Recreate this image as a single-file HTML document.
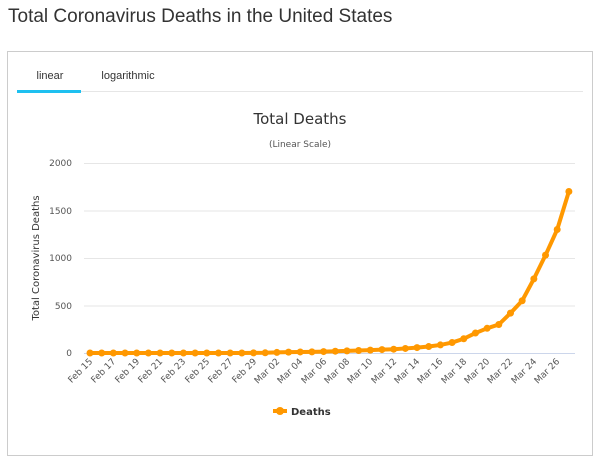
<!DOCTYPE html>
<html><head><meta charset="utf-8"><style>
body{margin:0;width:600px;height:466px;background:#fff;font-family:"Liberation Sans",sans-serif;overflow:hidden;position:relative}
h1{position:absolute;left:8px;top:6px;margin:0;font-size:19px;font-weight:normal;color:#333}
.box{position:absolute;left:7px;top:51px;width:586px;height:405px;border:1px solid #ccc;box-sizing:border-box}
</style></head><body>
<h1>Total Coronavirus Deaths in the United States</h1>
<div class="box"></div>
<svg width="600" height="466" style="position:absolute;left:0;top:0" font-family="'DejaVu Sans',sans-serif">
<text x="50" y="79" font-size="11" fill="#333" font-family="Liberation Sans,sans-serif" text-anchor="middle">linear</text>
<text x="128" y="79" font-size="11" fill="#333" font-family="Liberation Sans,sans-serif" text-anchor="middle">logarithmic</text>
<line x1="17" y1="91.5" x2="583" y2="91.5" stroke="#e6e6e6"/>
<rect x="17" y="90" width="64" height="3" fill="#1ec0f0"/>
<text x="300" y="124" font-size="15" fill="#333" text-anchor="middle" font-family="DejaVu Sans,sans-serif">Total Deaths</text>
<text x="300" y="147" font-size="9" fill="#555" text-anchor="middle">(Linear Scale)</text>
<g stroke="#e6e6e6"><line x1="84" y1="163.5" x2="575" y2="163.5"/><line x1="84" y1="211" x2="575" y2="211"/><line x1="84" y1="258.5" x2="575" y2="258.5"/><line x1="84" y1="306" x2="575" y2="306"/></g>
<line x1="84" y1="353.5" x2="575" y2="353.5" stroke="#ccd6eb"/>
<g font-size="9" fill="#555" text-anchor="end"><text x="72" y="166">2000</text><text x="72" y="214">1500</text><text x="72" y="261">1000</text><text x="72" y="309">500</text><text x="72" y="356">0</text></g>
<text transform="translate(39,258) rotate(-90)" font-size="10" fill="#333" text-anchor="middle" font-family="DejaVu Sans,sans-serif">Total Coronavirus Deaths</text>
<g font-size="9" fill="#555" text-anchor="end">
<text transform="translate(93,362) rotate(-45)">Feb 15</text>
<text transform="translate(116,362) rotate(-45)">Feb 17</text>
<text transform="translate(140,362) rotate(-45)">Feb 19</text>
<text transform="translate(163,362) rotate(-45)">Feb 21</text>
<text transform="translate(186,362) rotate(-45)">Feb 23</text>
<text transform="translate(210,362) rotate(-45)">Feb 25</text>
<text transform="translate(233,362) rotate(-45)">Feb 27</text>
<text transform="translate(257,362) rotate(-45)">Feb 29</text>
<text transform="translate(280,362) rotate(-45)">Mar 02</text>
<text transform="translate(303,362) rotate(-45)">Mar 04</text>
<text transform="translate(327,362) rotate(-45)">Mar 06</text>
<text transform="translate(350,362) rotate(-45)">Mar 08</text>
<text transform="translate(373,362) rotate(-45)">Mar 10</text>
<text transform="translate(397,362) rotate(-45)">Mar 12</text>
<text transform="translate(420,362) rotate(-45)">Mar 14</text>
<text transform="translate(443,362) rotate(-45)">Mar 16</text>
<text transform="translate(467,362) rotate(-45)">Mar 18</text>
<text transform="translate(490,362) rotate(-45)">Mar 20</text>
<text transform="translate(513,362) rotate(-45)">Mar 22</text>
<text transform="translate(537,362) rotate(-45)">Mar 24</text>
<text transform="translate(560,362) rotate(-45)">Mar 26</text>
</g>
<g id="series"></g>
<line x1="273" y1="411" x2="287" y2="411" stroke="#ff9800" stroke-width="4"/>
<circle cx="280" cy="411" r="4" fill="#ff9800"/>
<text x="291" y="415" font-size="10" font-weight="bold" fill="#333">Deaths</text>
</svg>
<script>
var v=[0,0,0,0,0,0,0,0,0,0,0,0,0,0,1,2,6,9,11,12,15,19,22,26,30,36,40,48,57,68,85,110,150,210,260,300,420,550,780,1030,1300,1700];
var g=document.getElementById('series'),ns='http://www.w3.org/2000/svg',pts=[];
v.forEach(function(d,i){var x=90+i*11.68,y=353-d*0.095;pts.push(x+','+y);});
var pl=document.createElementNS(ns,'polyline');pl.setAttribute('points',pts.join(' '));pl.setAttribute('fill','none');pl.setAttribute('stroke','#ff9800');pl.setAttribute('stroke-width','4');pl.setAttribute('stroke-linejoin','round');g.appendChild(pl);
pts.forEach(function(p){var c=document.createElementNS(ns,'circle');var a=p.split(',');c.setAttribute('cx',a[0]);c.setAttribute('cy',a[1]);c.setAttribute('r','3.5');c.setAttribute('fill','#ff9800');g.appendChild(c);});
</script>
</body></html>
